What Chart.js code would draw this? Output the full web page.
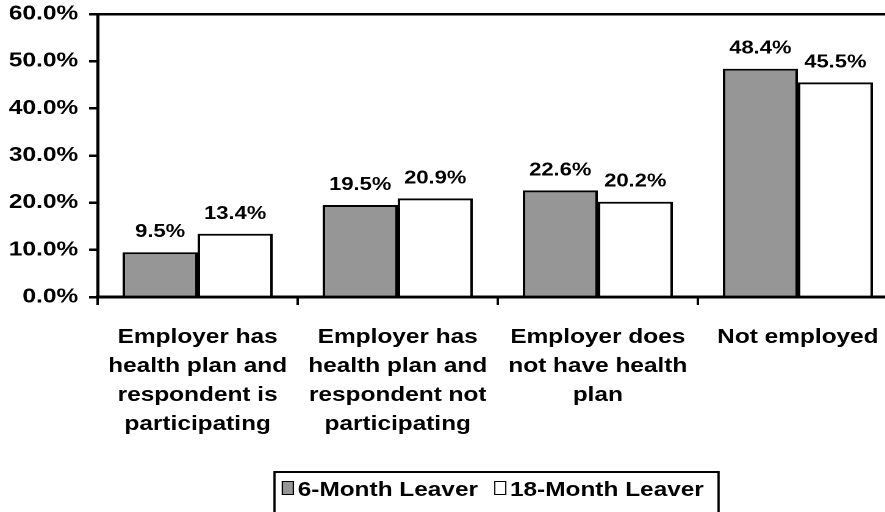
<!DOCTYPE html>
<html>
<head>
<meta charset="utf-8">
<script src="https://cdn.jsdelivr.net/npm/chart.js@4/dist/chart.umd.min.js"></script>
<style>
  html, body { margin: 0; padding: 0; background: #fff; overflow: hidden; }
  #page { width: 885px; height: 512px; overflow: hidden; position: relative; }
  /* the original is horizontally stretched, so the whole drawing is too */
  #wrap { position: absolute; left: 0; top: 0; width: 736px; height: 512px;
          transform: scaleX(1.22); transform-origin: 0 0; }
  #legend { position: absolute; left: 224px; top: 471px; width: 366px; height: 60px;
            border: 2px solid #000; box-sizing: border-box;
            font: bold 20px "Liberation Sans", Arial, sans-serif; color: #000; }
  .sw { position: absolute; top: 8px; width: 8px; height: 12px; border: 1.5px solid #000; }
  .tx { position: absolute; top: 6px; line-height: 20px; white-space: nowrap; }
</style>
</head>
<body>
<div id="page">
  <div id="wrap">
    <canvas id="chart" width="736" height="512" style="width:736px;height:512px"></canvas>
    <div id="legend"></div>
  </div>
</div>
<script>
const categories = [
  ["Employer has", "health plan and", "respondent is", "participating"],
  ["Employer has", "health plan and", "respondent not", "participating"],
  ["Employer does", "not have health", "plan"],
  ["Not employed"]
];
const seriesNames = ["6-Month Leaver", "18-Month Leaver"];
const sixMonth = [9.5, 19.5, 22.6, 48.4];
const eighteenMonth = [13.4, 20.9, 20.2, 45.5];
const yTicks = [0, 10, 20, 30, 40, 50, 60];
const colors = ["#969696", "#ffffff"];

const fontFamily = '"Liberation Sans", Arial, sans-serif';

// value labels above each bar
const valueLabels = {
  id: 'valueLabels',
  afterDatasetsDraw(chart) {
    const ctx = chart.ctx;
    ctx.save();
    ctx.font = 'bold 18px ' + fontFamily;
    ctx.fillStyle = '#000';
    ctx.textAlign = 'center';
    ctx.textBaseline = 'alphabetic';
    chart.data.datasets.forEach((ds, i) => {
      chart.getDatasetMeta(i).data.forEach((bar, j) => {
        ctx.fillText(ds.data[j].toFixed(1) + '%', bar.x, bar.y - 15);
      });
    });
    ctx.restore();
  }
};

new Chart(document.getElementById('chart'), {
  type: 'bar',
  data: {
    labels: categories,
    datasets: [
      { label: seriesNames[0], data: sixMonth, backgroundColor: colors[0],
        borderColor: '#000', borderWidth: 2, borderSkipped: 'bottom' },
      { label: seriesNames[1], data: eighteenMonth, backgroundColor: colors[1],
        borderColor: '#000', borderWidth: 2, borderSkipped: 'bottom' }
    ]
  },
  options: {
    responsive: false,
    animation: false,
    devicePixelRatio: 2,
    layout: { padding: { top: 14, left: 0, right: 0, bottom: 0 } },
    datasets: { bar: { categoryPercentage: 0.75, barPercentage: 1 } },
    plugins: { legend: { display: false }, tooltip: { enabled: false } },
    scales: {
      x: {
        afterFit: s => { s.height = 215; s.paddingLeft = 0; s.paddingRight = 0; },
        border: { display: true, color: '#000', width: 3 },
        grid: { display: true, offset: true, drawOnChartArea: false,
                color: '#000', lineWidth: 2, tickLength: 8 },
        ticks: { color: '#000', padding: 18, maxRotation: 0, autoSkip: false,
                 font: { family: fontFamily, size: 20, weight: 'bold', lineHeight: '29px' } }
      },
      y: {
        min: 0, max: 60,
        afterFit: s => { s.width = 80; s.paddingTop = 0; s.paddingBottom = 0; },
        afterBuildTicks: s => { s.ticks = yTicks.map(v => ({ value: v })); },
        border: { display: true, color: '#000', width: 2.5 },
        grid: { color: c => c.tick && c.tick.value === 60 ? '#000' : 'rgba(0,0,0,0)',
                tickColor: '#000', lineWidth: 2.5, tickLength: 7 },
        ticks: { color: '#000', padding: 9,
                 callback: v => v.toFixed(1) + '%',
                 font: { family: fontFamily, size: 20, weight: 'bold' } }
      }
    }
  },
  plugins: [valueLabels]
});

// legend box
const legend = document.getElementById('legend');
const swatchX = [5, 179];
seriesNames.forEach((name, i) => {
  const sw = document.createElement('span');
  sw.className = 'sw';
  sw.style.left = swatchX[i] + 'px';
  sw.style.background = colors[i];
  const tx = document.createElement('span');
  tx.className = 'tx';
  tx.style.left = (swatchX[i] + 13) + 'px';
  tx.textContent = name;
  legend.appendChild(sw);
  legend.appendChild(tx);
});
</script>
</body>
</html>
